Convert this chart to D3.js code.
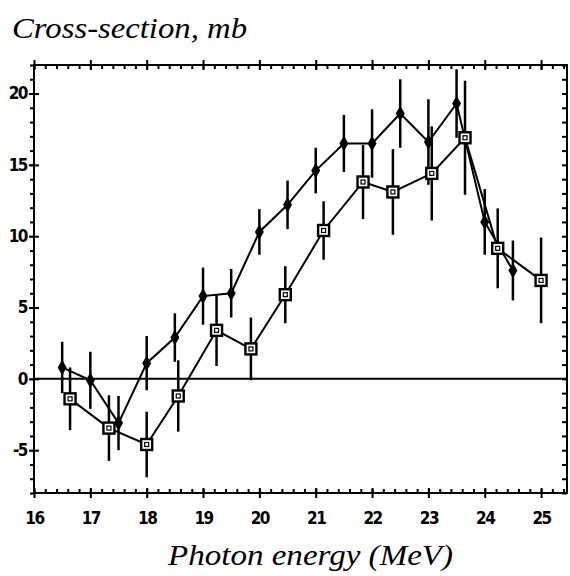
<!DOCTYPE html>
<html>
<head>
<meta charset="utf-8">
<script src="https://cdn.jsdelivr.net/npm/d3@7"></script>
<style>
  body { margin: 0; background: #fff; }
  .tick text { font-family: "DejaVu Sans Condensed", "DejaVu Sans", sans-serif; font-weight: bold; font-size: 17px; letter-spacing: -1.5px; }
  .title { font-family: "Liberation Serif", serif; font-style: italic; font-size: 29px; }
</style>
</head>
<body>
<div id="chart"></div>
<script>
// filled points (diamonds)
const filledX = [16.5, 17.0, 17.5, 18.0, 18.5, 19.0, 19.5, 20.0, 20.5, 21.0, 21.5, 22.0, 22.5, 23.0, 23.5, 24.0, 24.5];
const filledY = [0.8, -0.1, -3.1, 1.1, 2.9, 5.8, 6.0, 10.3, 12.2, 14.6, 16.5, 16.5, 18.6, 16.6, 19.3, 11.0, 7.6];
const filledErr = [1.8, 2.0, 1.9, 1.9, 1.7, 2.0, 1.7, 1.6, 1.7, 1.6, 2.0, 2.4, 2.4, 3.0, 2.4, 2.3, 2.1];

// open squares
const squareX = [16.64, 17.33, 18.0, 18.56, 19.24, 19.85, 20.46, 21.14, 21.84, 22.37, 23.06, 23.65, 24.23, 25.0];
const squareY = [-1.4, -3.45, -4.6, -1.2, 3.4, 2.1, 5.9, 10.4, 13.8, 13.1, 14.4, 16.9, 9.15, 6.9];
const squareErr = [2.2, 2.3, 2.3, 2.5, 2.5, 2.2, 2.0, 2.05, 2.6, 3.0, 3.3, 4.0, 2.8, 3.0];

const xTicks = [16, 17, 18, 19, 20, 21, 22, 23, 24, 25];
const yTicks = [-5, 0, 5, 10, 15, 20];
const xMinor = d3.range(16, 25.41, 0.2);
const yMinor = d3.range(-8, 22.01, 1);

const width = 570, height = 576;
const svg = d3.select("#chart").append("svg")
  .attr("width", width)
  .attr("height", height);

const x = d3.scaleLinear().domain([16, 25.46]).range([34, 567]);
const y = d3.scaleLinear().domain([-8, 22]).range([493, 65]);

const filled = filledX.map((d, i) => ({ x: d, y: filledY[i], e: filledErr[i] }));
const squares = squareX.map((d, i) => ({ x: d, y: squareY[i], e: squareErr[i] }));

// frame
svg.append("rect")
  .attr("x", x.range()[0]).attr("y", y.range()[1])
  .attr("width", x.range()[1] - x.range()[0])
  .attr("height", y.range()[0] - y.range()[1])
  .attr("fill", "none").attr("stroke", "#000").attr("stroke-width", 2);

const addAxis = (axis, tx, ty) => {
  const g = svg.append("g").attr("transform", `translate(${tx},${ty})`).call(axis);
  g.select(".domain").remove();
  g.selectAll(".tick line").attr("stroke", "#000").attr("stroke-width", 2);
  return g;
};

const yb = y.range()[0], yt = y.range()[1];
const xl = x.range()[0], xr = x.range()[1];
const fmt = (d) => String(d); // plain hyphen for negatives

// bottom
addAxis(d3.axisBottom(x).tickValues(xTicks).tickSize(5).tickPadding(14).tickFormat(fmt), 0, yb);
addAxis(d3.axisTop(x).tickValues(xTicks).tickSize(5).tickFormat(""), 0, yb);
addAxis(d3.axisTop(x).tickValues(xMinor).tickSize(4).tickFormat(""), 0, yb);
// top
addAxis(d3.axisTop(x).tickValues(xTicks).tickSize(5).tickFormat(""), 0, yt);
addAxis(d3.axisBottom(x).tickValues(xMinor).tickSize(4).tickFormat(""), 0, yt);
addAxis(d3.axisBottom(x).tickValues(xTicks).tickSize(5).tickFormat(""), 0, yt);
// left
addAxis(d3.axisLeft(y).tickValues(yTicks).tickSize(5).tickPadding(2).tickFormat(fmt), xl, 0);
addAxis(d3.axisRight(y).tickValues(yTicks).tickSize(5).tickFormat(""), xl, 0);
addAxis(d3.axisLeft(y).tickValues(yMinor).tickSize(4).tickFormat(""), xl, 0);
// right
addAxis(d3.axisLeft(y).tickValues(yMinor).tickSize(5).tickFormat(""), xr, 0);

// zero line
svg.append("line")
  .attr("x1", xl).attr("x2", xr)
  .attr("y1", y(0)).attr("y2", y(0))
  .attr("stroke", "#000").attr("stroke-width", 2);

const line = d3.line().x((d) => x(d.x)).y((d) => y(d.y));

const drawErr = (data) => {
  svg.append("g").selectAll("line")
    .data(data).join("line")
    .attr("x1", (d) => x(d.x)).attr("x2", (d) => x(d.x))
    .attr("y1", (d) => y(d.y + d.e)).attr("y2", (d) => y(d.y - d.e))
    .attr("stroke", "#000").attr("stroke-width", 2.5);
};
drawErr(filled);
drawErr(squares);

svg.append("path").datum(filled).attr("d", line)
  .attr("fill", "none").attr("stroke", "#000").attr("stroke-width", 2);
svg.append("path").datum(squares).attr("d", line)
  .attr("fill", "none").attr("stroke", "#000").attr("stroke-width", 2);

// filled markers
svg.append("g").selectAll("path")
  .data(filled).join("path")
  .attr("transform", (d) => `translate(${x(d.x)},${y(d.y)})`)
  .attr("d", d3.symbol(d3.symbolDiamond, 70))
  .attr("fill", "#000");

// square markers
const sq = svg.append("g").selectAll("g")
  .data(squares).join("g")
  .attr("transform", (d) => `translate(${x(d.x)},${y(d.y)})`);
sq.append("rect")
  .attr("x", -5.5).attr("y", -5.5).attr("width", 11).attr("height", 11)
  .attr("fill", "#fff").attr("stroke", "#000").attr("stroke-width", 2.4);
sq.append("rect")
  .attr("x", -2).attr("y", -2).attr("width", 4).attr("height", 4)
  .attr("fill", "none").attr("stroke", "#000").attr("stroke-width", 1.2);

// titles
svg.append("text").attr("class", "title")
  .attr("x", 12).attr("y", 38)
  .attr("textLength", 235).attr("lengthAdjust", "spacingAndGlyphs")
  .text("Cross-section, mb");

svg.append("text").attr("class", "title")
  .attr("x", 168).attr("y", 565)
  .attr("textLength", 285).attr("lengthAdjust", "spacingAndGlyphs")
  .text("Photon energy (MeV)");
</script>
</body>
</html>
